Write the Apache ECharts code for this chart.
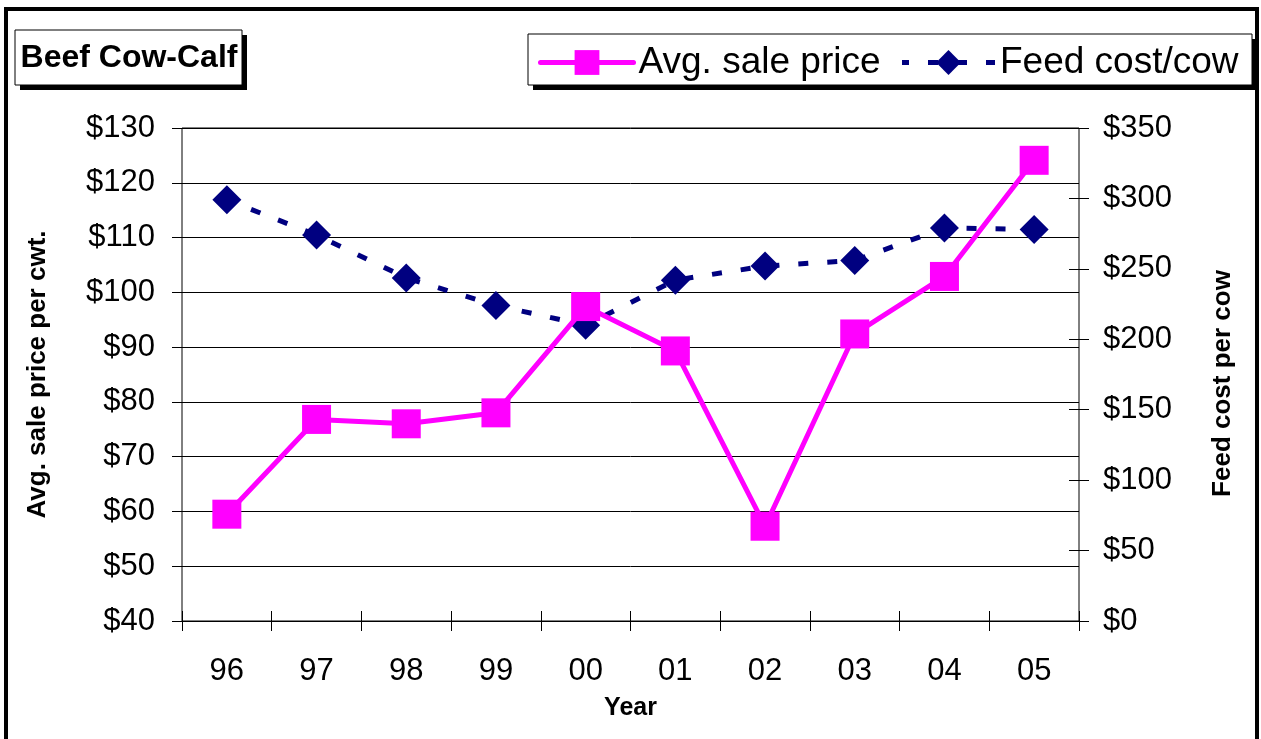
<!DOCTYPE html>
<html>
<head>
<meta charset="utf-8">
<script src="https://cdn.jsdelivr.net/npm/echarts@6/dist/echarts.min.js"></script>
<style>
html,body{margin:0;padding:0;background:#fff;}
#chart{width:1261px;height:739px;}
</style>
</head>
<body>
<div id="chart"></div>
<script>
var years = ['96', '97', '98', '99', '00', '01', '02', '03', '04', '05'];
var avgSalePrice = [59.5, 76.8, 76.0, 78.0, 97.4, 89.3, 57.3, 92.4, 102.9, 124.1];
var feedCostPerCow = [299, 274, 243.5, 224, 210, 242, 252, 256, 279, 278];
var seriesNames = ['Avg. sale price', 'Feed cost/cow'];
var chartTitle = 'Beef Cow-Calf';
var leftAxisTitle = 'Avg. sale price per cwt.';
var rightAxisTitle = 'Feed cost per cow';
var xAxisTitle = 'Year';

var FONT = '"Liberation Sans", Arial, Helvetica, sans-serif';
var chart = echarts.init(document.getElementById('chart'), null, {renderer: 'canvas'});

function money(v) { return '$' + v; }

var option = {
  backgroundColor: '#fff',
  animation: false,
  grid: {left: 182, right: 182, top: 128, bottom: 118, containLabel: false,
         show: true, borderColor: '#000', borderWidth: 1, backgroundColor: 'transparent'},
  graphic: [
    {type: 'rect', z: 0, shape: {x: 6, y: 9, width: 1251, height: 800},
     style: {fill: 'none', stroke: '#000', lineWidth: 4}},
    {type: 'rect', z: 0, shape: {x: 20, y: 35, width: 227, height: 55}, style: {fill: '#000'}},
    {type: 'rect', z: 1, shape: {x: 15, y: 30, width: 227, height: 55},
     style: {fill: '#fff', stroke: '#000', lineWidth: 1}},
    {type: 'text', z: 2, x: 129, y: 58,
     style: {text: chartTitle, font: 'bold 32px ' + FONT, fill: '#000', align: 'center', verticalAlign: 'middle'}},
    {type: 'rect', z: 0, shape: {x: 533, y: 39, width: 724, height: 51}, style: {fill: '#000'}},
    {type: 'rect', z: 1, shape: {x: 528, y: 34, width: 724, height: 51},
     style: {fill: '#fff', stroke: '#000', lineWidth: 1}}
  ],
  legend: {
    left: 538, top: 44, padding: 0, itemGap: 19,
    itemWidth: 93, itemHeight: 31,
    textStyle: {fontSize: 37, fontFamily: FONT, color: '#000'},
    lineStyle: {width: 5},
    data: seriesNames
  },
  xAxis: {
    type: 'category', data: years, boundaryGap: true, offset: -10,
    name: xAxisTitle, nameLocation: 'middle', nameGap: 85,
    nameTextStyle: {fontSize: 25, fontWeight: 'bold', fontFamily: FONT, color: '#000'},
    axisLine: {show: false, onZero: false},
    axisTick: {show: true, inside: false, length: 20, lineStyle: {color: '#000', width: 1}},
    axisLabel: {fontSize: 31, fontFamily: FONT, color: '#000', margin: 45},
    splitLine: {show: false}
  },
  yAxis: [
    {type: 'value', position: 'left', min: 40, max: 130, interval: 10, offset: -10,
     name: leftAxisTitle, nameLocation: 'middle', nameGap: 141,
     nameTextStyle: {fontSize: 26, fontWeight: 'bold', fontFamily: FONT, color: '#000'},
     axisLine: {show: false, onZero: false},
     axisTick: {show: true, inside: false, length: 20, lineStyle: {color: '#000', width: 1}},
     axisLabel: {fontSize: 31, fontFamily: FONT, color: '#000', margin: 37, formatter: money},
     splitLine: {show: true, lineStyle: {color: '#000', width: 1}}},
    {type: 'value', position: 'right', min: 0, max: 350, interval: 50, offset: -10,
     name: rightAxisTitle, nameLocation: 'middle', nameGap: 141, nameRotate: 90,
     nameTextStyle: {fontSize: 26, fontWeight: 'bold', fontFamily: FONT, color: '#000', padding: [0, 18, 0, 0]},
     axisLine: {show: false, onZero: false},
     axisTick: {show: true, inside: false, length: 20, lineStyle: {color: '#000', width: 1}},
     axisLabel: {fontSize: 31, fontFamily: FONT, color: '#000', margin: 34, formatter: money},
     splitLine: {show: false}}
  ],
  series: [
    {name: seriesNames[1], type: 'line', yAxisIndex: 1, z: 3,
     data: feedCostPerCow,
     symbol: 'diamond', symbolSize: 29,
     itemStyle: {color: '#000080'},
     lineStyle: {color: '#000080', width: 5, type: [10, 19], dashOffset: 3}},
    {name: seriesNames[0], type: 'line', yAxisIndex: 0, z: 4,
     data: avgSalePrice,
     symbol: 'rect', symbolSize: 29,
     itemStyle: {color: '#FF00FF'},
     lineStyle: {color: '#FF00FF', width: 5, cap: 'round'}}
  ]
};
chart.setOption(option);
</script>
</body>
</html>
